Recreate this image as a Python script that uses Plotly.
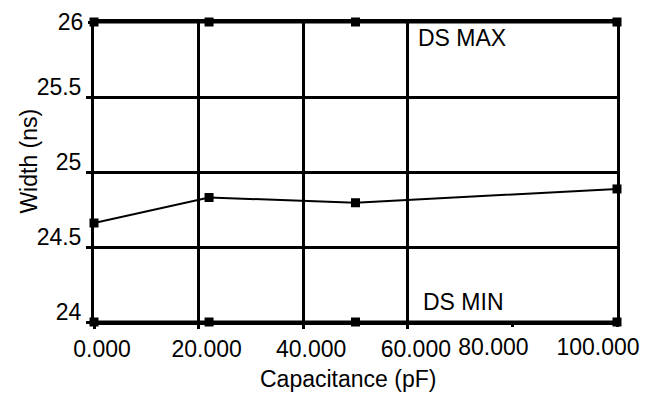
import plotly.graph_objects as go

cap_x = [0, 22, 50, 100]
width_ns = [24.66, 24.83, 24.795, 24.887]
ds_max = [26, 26, 26, 26]
ds_min = [24, 24, 24, 24]

x_tickvals = [0, 20, 40, 60, 80, 100]
x_ticktext = ["0.000", "20.000", "40.000", "60.000", "80.000", "100.000"]
y_tickvals = [24, 24.5, 25, 25.5, 26]
y_ticktext = ["24", "24.5", "25", "25.5", "26"]

FONT = "Liberation Sans, Arial, sans-serif"
FS = 23

fig = go.Figure()
marker = dict(symbol="square", size=9, color="black")
# DS MAX on the overlay y axis (identical range) so that axis is rendered
fig.add_trace(go.Scatter(x=cap_x, y=ds_max, mode="lines+markers", yaxis="y2",
                         line=dict(color="black", width=3), marker=marker, cliponaxis=False))
# DS MIN on the overlay x axis (identical range) so that axis is rendered
fig.add_trace(go.Scatter(x=cap_x, y=ds_min, mode="lines+markers", xaxis="x2",
                         line=dict(color="black", width=3), marker=marker, cliponaxis=False))
fig.add_trace(go.Scatter(x=cap_x, y=width_ns, mode="lines+markers",
                         line=dict(color="black", width=2), marker=marker, cliponaxis=False))

fig.add_annotation(x=61.5, y=26, xref="x", yref="y", text="DS MAX", showarrow=False,
                   xanchor="left", yanchor="top", yshift=-1,
                   font=dict(family=FONT, size=FS, color="black"))
fig.add_annotation(x=62.5, y=24, xref="x", yref="y", text="DS MIN", showarrow=False,
                   xanchor="left", yanchor="bottom", yshift=5,
                   font=dict(family=FONT, size=FS, color="black"))
fig.add_annotation(x=0.486, y=-0.19, xref="paper", yref="paper", text="Capacitance (pF)",
                   showarrow=False, xanchor="center", yanchor="middle",
                   font=dict(family=FONT, size=FS, color="black"))
fig.add_annotation(x=-0.126, y=0.535, xref="paper", yref="paper", text="Width (ns)",
                   textangle=-90, showarrow=False, xanchor="center", yanchor="middle",
                   font=dict(family=FONT, size=FS, color="black"))

fig.update_layout(
    width=641, height=385,
    margin=dict(l=86, r=32, t=14, b=71),
    paper_bgcolor="white", plot_bgcolor="white",
    showlegend=False,
    font=dict(family=FONT, size=FS, color="black"),
)
fig.update_xaxes(range=[0, 100], tickvals=x_tickvals[:4], ticktext=x_ticktext[:4],
                 automargin=False,
                 showgrid=True, gridcolor="black", gridwidth=3,
                 showline=True, linecolor="black", linewidth=3, mirror=True,
                 ticks="outside", ticklen=4, tickwidth=3, tickcolor="black",
                 zeroline=False, ticklabelshift=8, ticklabeloverflow="allow",
                 tickfont=dict(family=FONT, size=FS))
fig.update_layout(xaxis2=dict(
    overlaying="x", anchor="y", side="bottom", range=[0, 100],
    tickvals=x_tickvals[4:], ticktext=x_ticktext[4:],
    automargin=False, showgrid=False, showline=False, zeroline=False,
    ticks="outside", ticklen=4, tickwidth=3, tickcolor="black",
    ticklabelshift=-19, ticklabeloverflow="allow",
    tickfont=dict(family=FONT, size=FS)))
fig.update_yaxes(range=[24, 26], tickvals=y_tickvals[:4], ticktext=y_ticktext[:4],
                 automargin=False,
                 showgrid=True, gridcolor="black", gridwidth=3,
                 showline=True, linecolor="black", linewidth=3, mirror=True,
                 ticks="outside", ticklen=5, tickwidth=3, tickcolor="black",
                 zeroline=False, ticklabelshift=-10, ticklabeloverflow="allow",
                 tickfont=dict(family=FONT, size=FS))
fig.update_layout(yaxis2=dict(
    overlaying="y", anchor="x", side="left", range=[24, 26],
    tickvals=y_tickvals[4:], ticktext=y_ticktext[4:],
    automargin=False, showgrid=False, showline=False, zeroline=False,
    ticks="outside", ticklen=5, tickwidth=3, tickcolor="black",
    ticklabeloverflow="allow",
    tickfont=dict(family=FONT, size=FS)))

fig.write_html("out.html")
